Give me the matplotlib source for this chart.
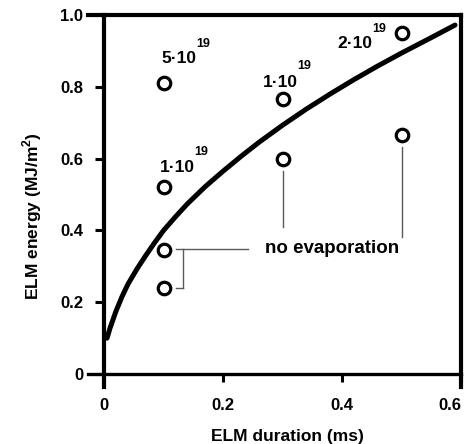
import matplotlib
matplotlib.use("Agg")
import matplotlib.pyplot as plt

plt.rcParams['font.family'] = ['Liberation Sans', 'DejaVu Sans']
plt.rcParams['font.weight'] = 'bold'
plt.rcParams['mathtext.fontset'] = 'custom'
plt.rcParams['mathtext.rm'] = 'Liberation Sans:bold'
plt.rcParams['mathtext.bf'] = 'Liberation Sans:bold'

# ---- data ----
curve_x = [0.005, 0.01, 0.02, 0.03, 0.04, 0.055, 0.07, 0.085, 0.10, 0.12,
           0.14, 0.17, 0.20, 0.23, 0.26, 0.30, 0.34, 0.38, 0.42, 0.46,
           0.50, 0.55, 0.59]
curve_y = [0.100, 0.128, 0.175, 0.215, 0.250, 0.292, 0.330, 0.366, 0.400,
           0.438, 0.474, 0.522, 0.565, 0.606, 0.645, 0.693, 0.738, 0.780,
           0.820, 0.858, 0.894, 0.937, 0.972]

pts_x = [0.1, 0.1, 0.1, 0.1, 0.3, 0.3, 0.5, 0.5]
pts_y = [0.81, 0.52, 0.345, 0.24, 0.765, 0.60, 0.95, 0.665]

labels_base = ["5·10", "1·10", "1·10", "2·10"]
labels_sup = ["19", "19", "19", "19"]
# layout positions of the labels (data coords): base (x, y), superscript (x, y)
labels_base_pos = [(0.096, 0.866), (0.094, 0.563), (0.267, 0.799), (0.392, 0.908)]
labels_sup_pos = [(0.155, 0.911), (0.151, 0.610), (0.324, 0.850), (0.450, 0.953)]

xticks = [0, 0.2, 0.4, 0.6]
xtick_labels = ["0", "0.2", "0.4", "0.6"]
yticks = [0, 0.2, 0.4, 0.6, 0.8, 1.0]
ytick_labels = ["0", "0.2", "0.4", "0.6", "0.8", "1.0"]

fig = plt.figure(figsize=(4.65, 4.44), dpi=100)
ax = fig.add_axes([88 / 465, 1 - 387 / 444, (461 - 88) / 465, (387 - 15) / 444])
ax.set_xlim(-0.027, 0.6)
ax.set_ylim(-0.036, 1.0)

ax.plot(curve_x, curve_y, color='black', lw=3.6, solid_capstyle='round',
        solid_joinstyle='round', zorder=3)
ax.plot(pts_x, pts_y, 'o', ms=9, mfc='white', mec='black', mew=2.3, zorder=4)

for (bx, by), (sx, sy), b, s in zip(labels_base_pos, labels_sup_pos, labels_base, labels_sup):
    ax.text(bx, by, b, fontsize=12.5, fontweight='bold', ha='left', va='baseline')
    ax.text(sx, sy, s, fontsize=9, fontweight='bold', ha='left', va='baseline')

ax.text(0.27, 0.337, "no evaporation", fontsize=13.5, fontweight='bold',
        ha='left', va='baseline')

gcol = '#5a5a5a'
glw = 1.0
# leader lines for "no evaporation"
ax.plot([0.121, 0.242], [0.348, 0.348], color=gcol, lw=glw)
ax.plot([0.133, 0.133], [0.348, 0.240], color=gcol, lw=glw)
ax.plot([0.121, 0.133], [0.240, 0.240], color=gcol, lw=glw)
ax.plot([0.3, 0.3], [0.565, 0.409], color=gcol, lw=glw)
ax.plot([0.5, 0.5], [0.632, 0.381], color=gcol, lw=glw)

# spines
ax.spines['left'].set_position(('data', 0))
ax.spines['bottom'].set_position(('data', 0))
ax.spines['left'].set_linewidth(3.0)
ax.spines['bottom'].set_linewidth(2.4)
ax.spines['top'].set_linewidth(3.0)
ax.spines['right'].set_linewidth(3.0)

ax.set_xticks(xticks)
ax.set_xticklabels(xtick_labels)
ax.set_yticks(yticks)
ax.set_yticklabels(ytick_labels)
ax.tick_params(axis='y', direction='out', length=6.5, width=2.2, pad=8.5,
               labelsize=12)
ax.tick_params(axis='x', direction='out', length=6, width=2.2, pad=11,
               labelsize=12)
for lab in ax.get_xticklabels() + ax.get_yticklabels():
    lab.set_fontweight('bold')
ax.get_xticklabels()[-1].set_ha('right')

fig.text(287 / 465, 1 - 436 / 444, "ELM duration (ms)", fontsize=12.5,
         fontweight='bold', ha='center', va='center')
fig.text(32 / 465, 1 - 216 / 444, r"ELM energy (MJ/m$^{\mathbf{2}}$)",
         fontsize=12.5, fontweight='bold', ha='center', va='center',
         rotation=90)

fig.savefig("out.png", dpi=100)
